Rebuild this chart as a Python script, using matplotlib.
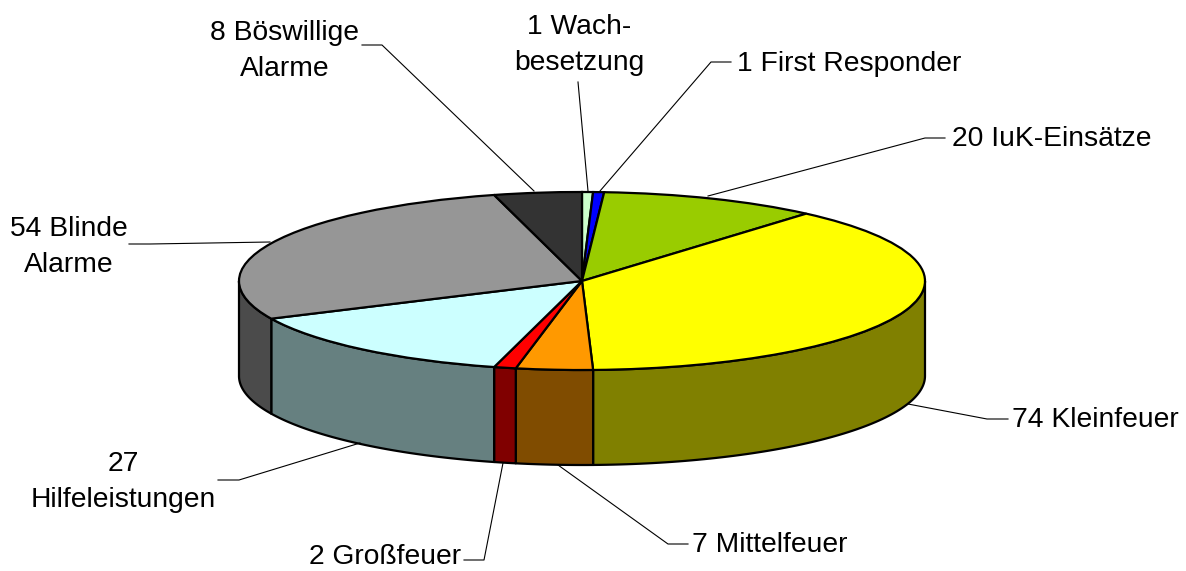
import numpy as np
import matplotlib
matplotlib.use('Agg')
import matplotlib.pyplot as plt

plt.rcParams['font.family'] = ['Liberation Sans', 'DejaVu Sans']

# data, clockwise from 12 o'clock
names = ['Wach-\nbesetzung', 'First Responder', 'IuK-Einsätze', 'Kleinfeuer', 'Mittelfeuer',
         'Großfeuer', '\nHilfeleistungen', 'Blinde\nAlarme', 'Böswillige\nAlarme']
values = [1, 1, 20, 74, 7, 2, 27, 54, 8]
top_colors = ['#CCFFCC', '#0000FF', '#99CC00', '#FFFF00', '#FF9900', '#FF0000', '#CCFFFF', '#969696', '#333333']
side_colors = ['#668066', '#000080', '#4C6600', '#808000', '#804C00', '#800000', '#668080', '#4B4B4B', '#1A1A1A']

# layout in pixels
W, H = 1186, 571
cx, cy, rx, ry, depth = 582.0, 281.0, 343.0, 89.0, 95.0

# label anchor (x, y, ha) and leader line points
label_pos = [(579, 45, 'center'), (737, 64, 'left'), (952, 139, 'left'), (1012, 420, 'left'), (692, 545, 'left'),
             (461, 557, 'right'), (123, 482, 'center'), (69, 247, 'center'), (285, 51, 'center')]
leaders = [[(578, 82), (588, 191)],
           [(731, 62), (711, 62), (600, 191)],
           [(945, 138), (925, 138), (708, 196)],
           [(1008, 419), (987, 419), (908, 404)],
           [(688, 544), (668, 544), (558, 465)],
           [(464, 560), (484, 560), (503, 463)],
           [(218, 480), (239, 480), (360, 443)],
           [(129, 244), (150, 244), (270, 242)],
           [(362, 45), (382, 45), (534, 191)]]

fig = plt.figure(figsize=(W / 100, H / 100), dpi=100, facecolor='white')

# pie axes: one data unit is rx px across and ry px down, which squashes the circle
ax = fig.add_axes([0, 0, 1, 1])
ax.pie(values, colors=top_colors, startangle=90, counterclock=False, radius=1,
       wedgeprops={'edgecolor': 'black', 'linewidth': 1.6, 'zorder': 3}, normalize=True)
ax.set_aspect('auto')
ax.set_xlim(-cx / rx, (W - cx) / rx)
ax.set_ylim((cy - H) / ry, cy / ry)

# side wall, only the front half of the cylinder shows
d = depth / ry
edges = np.cumsum([0] + values) / sum(values) * 2 * np.pi
for i in range(len(values)):
    a0 = max(edges[i], np.pi / 2)
    a1 = min(edges[i + 1], 3 * np.pi / 2)
    if a1 <= a0:
        continue
    t = np.linspace(a0, a1, 80)
    xs = np.sin(t)
    ys = np.cos(t)
    ax.fill(np.r_[xs, xs[::-1]], np.r_[ys, ys[::-1] - d], facecolor=side_colors[i],
            edgecolor='black', linewidth=1.6, joinstyle='round', zorder=2)

# labels and leader lines in pixel coords
ov = fig.add_axes([0, 0, 1, 1])
ov.set_xlim(0, W)
ov.set_ylim(H, 0)
ov.axis('off')
for v, name, pos, pts in zip(values, names, label_pos, leaders):
    txt = f'{v} {name}' if not name.startswith('\n') else f'{v}{name}'
    ov.text(pos[0], pos[1], txt, ha=pos[2], va='center', multialignment='center',
            fontsize=20.3, color='black', linespacing=1.52)
    ov.plot([p[0] for p in pts], [p[1] for p in pts], color='black', lw=0.8)

fig.savefig('out.png', dpi=100)
